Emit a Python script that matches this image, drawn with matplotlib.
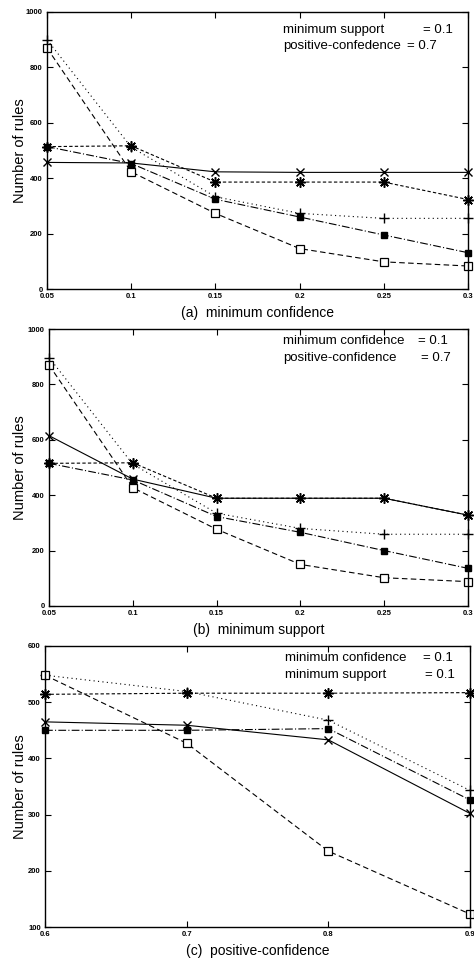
import matplotlib
matplotlib.use('Agg')
import matplotlib.pyplot as plt

plt.rcParams['font.family'] = ['Liberation Sans', 'DejaVu Sans']

# (a) varying minimum confidence
conf_x = [0.05, 0.1, 0.15, 0.2, 0.25, 0.3]
a_cross = [457, 455, 423, 421, 421, 421]
a_aster = [514, 517, 386, 386, 386, 323]
a_plus = [900, 512, 333, 273, 255, 255]
a_fsq = [514, 453, 324, 260, 195, 131]
a_osq = [870, 423, 273, 146, 98, 83]

# (b) varying minimum support
supp_x = [0.05, 0.1, 0.15, 0.2, 0.25, 0.3]
b_cross = [615, 458, 389, 389, 389, 328]
b_aster = [515, 517, 389, 389, 389, 328]
b_plus = [897, 512, 335, 280, 259, 259]
b_fsq = [515, 455, 323, 266, 200, 136]
b_osq = [870, 427, 277, 150, 102, 88]

# (c) varying positive-confidence
pc_x = [0.6, 0.7, 0.8, 0.9]
c_cross = [465, 459, 433, 302]
c_aster = [514, 516, 516, 517]
c_plus = [548, 519, 468, 343]
c_fsq = [450, 450, 453, 326]
c_osq = [548, 427, 235, 123]

W, H = 474, 959
fig = plt.figure(figsize=(W / 100, H / 100), dpi=100)

aster = (8, 2, 0)


def px_axes(l, t, r, b):
    ax = fig.add_axes([l / W, 1 - b / H, (r - l) / W, (b - t) / H])
    ax._px = (l, r)
    return ax


def draw(ax, x, cross, ast, plus, fsq, osq):
    lw = 0.8
    ax.plot(x, cross, '-', color='k', lw=lw, marker='x', ms=5.5, mew=1.0)
    ax.plot(x, ast, color='k', lw=lw, ls=(0, (3, 2)), marker=aster, ms=7.5, mew=1.1)
    ax.plot(x, plus, color='k', lw=lw, ls=(0, (1, 3)), marker='+', ms=6.5, mew=1.0)
    ax.plot(x, fsq, color='k', lw=lw, ls=(0, (7, 2, 1, 2)), marker='s', ms=5,
            mfc='k', mec='k')
    ax.plot(x, osq, color='k', lw=lw, ls=(0, (5, 3)), marker='s', ms=5.5,
            mfc='white', mec='k', mew=0.9)
    ax.tick_params(direction='in', top=True, right=True, length=4, width=0.8,
                   labelsize=5.5, pad=3)
    for t in ax.get_xticklabels() + ax.get_yticklabels():
        t.set_fontweight('bold')
    for s in ax.spines.values():
        s.set_linewidth(1.0)
    ax.set_ylabel('Number of rules', fontsize=10.5)
    l, r = ax._px
    ax.yaxis.set_label_coords((27 - l) / (r - l), 0.5)


def note(px, py, label, pe, val):
    fig.text(px / W, 1 - py / H, label, fontsize=9.5, va='center', ha='left')
    fig.text(pe / W, 1 - py / H, val, fontsize=9.5, va='center', ha='left')


# panel (a)
ax1 = px_axes(47, 12, 468, 289)
draw(ax1, conf_x, a_cross, a_aster, a_plus, a_fsq, a_osq)
ax1.set_xlim(0.05, 0.3)
ax1.set_ylim(0, 1000)
ax1.set_xticks(conf_x)
ax1.set_xticklabels(['0.05', '0.1', '0.15', '0.2', '0.25', '0.3'])
ax1.set_yticks([0, 200, 400, 600, 800, 1000])
ax1.set_xlabel('(a)  minimum confidence', fontsize=10, labelpad=4)
note(283, 30, 'minimum support', 423, '= 0.1')
note(283, 46, 'positive-confedence', 407, '= 0.7')

# panel (b)
ax2 = px_axes(49, 329, 468, 606)
draw(ax2, supp_x, b_cross, b_aster, b_plus, b_fsq, b_osq)
ax2.set_xlim(0.05, 0.3)
ax2.set_ylim(0, 1000)
ax2.set_xticks(supp_x)
ax2.set_xticklabels(['0.05', '0.1', '0.15', '0.2', '0.25', '0.3'])
ax2.set_yticks([0, 200, 400, 600, 800, 1000])
ax2.set_xlabel('(b)  minimum support', fontsize=10, labelpad=4)
note(283, 341, 'minimum confidence', 418, '= 0.1')
note(283, 358, 'positive-confidence', 421, '= 0.7')

# panel (c)
ax3 = px_axes(45, 646, 470, 927)
draw(ax3, pc_x, c_cross, c_aster, c_plus, c_fsq, c_osq)
ax3.set_xlim(0.6, 0.9)
ax3.set_ylim(100, 600)
ax3.set_xticks(pc_x)
ax3.set_xticklabels(['0.6', '0.7', '0.8', '0.9'])
ax3.set_yticks([100, 200, 300, 400, 500, 600])
ax3.set_xlabel('(c)  positive-confidence', fontsize=10, labelpad=4)
note(285, 658, 'minimum confidence', 423, '= 0.1')
note(285, 675, 'minimum support', 425, '= 0.1')

for ax in (ax1, ax2, ax3):
    for ln in ax.lines:
        ln.set_clip_on(False)

fig.savefig('out.png', dpi=100)
